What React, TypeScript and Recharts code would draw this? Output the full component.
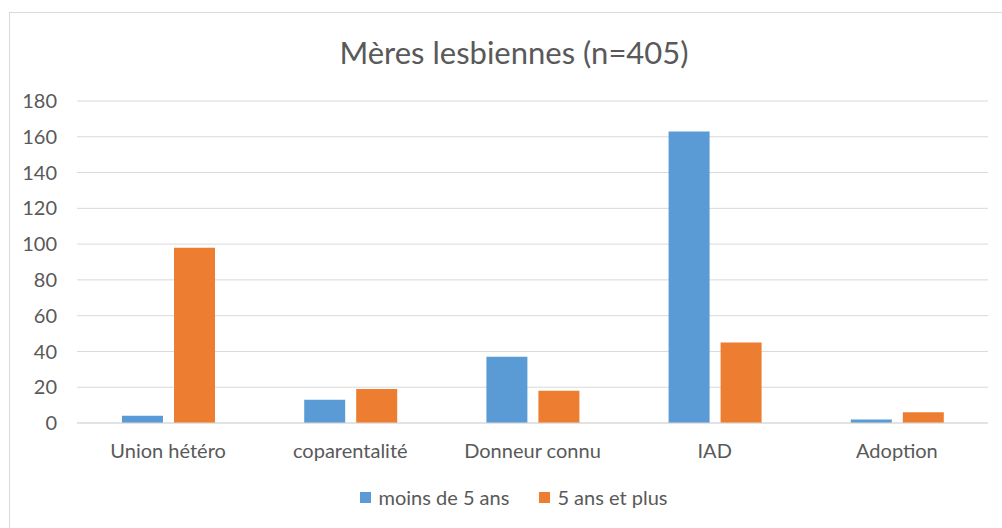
import {
  BarChart,
  Bar,
  XAxis,
  YAxis,
  CartesianGrid,
  Legend,
} from "recharts";

const categories = ["Union hétéro", "coparentalité", "Donneur connu", "IAD", "Adoption"];
const moinsDe5 = [4, 13, 37, 163, 2];
const cinqEtPlus = [98, 19, 18, 45, 6];
const yTicks = [0, 20, 40, 60, 80, 100, 120, 140, 160, 180];

const SERIES = [
  { key: "moins", name: "moins de 5 ans", color: "#5B9BD5" },
  { key: "plus", name: "5 ans et plus", color: "#ED7D31" },
];

const FONT = "Lato, 'Open Sans', sans-serif";
const TEXT = "#595959";
const GRID = "#d9d9d9";

const data = categories.map((c, i) => ({
  name: c,
  moins: moinsDe5[i],
  plus: cinqEtPlus[i],
}));

// legend centré en bas
const renderLegend = () => (
  <div
    style={{
      display: "flex",
      justifyContent: "center",
      gap: 30,
      fontFamily: FONT,
      fontSize: 20,
      color: TEXT,
      height: 24,
    }}
  >
    {SERIES.map((s) => (
      <div key={s.key} style={{ display: "flex", alignItems: "center", gap: 7 }}>
        <div style={{ width: 11, height: 11, background: s.color }} />
        <span>{s.name}</span>
      </div>
    ))}
  </div>
);

export default function App() {
  return (
    <div
      style={{
        position: "absolute",
        left: 0,
        top: 0,
        width: 1002,
        height: 528,
        overflow: "hidden",
        background: "#fff",
      }}
    >
      {/* cadre du graphique */}
      <div
        style={{
          position: "absolute",
          left: 9,
          top: 12,
          width: 1100,
          height: 600,
          borderLeft: `1px solid ${GRID}`,
          borderTop: `1px solid ${GRID}`,
        }}
      />
      <div
        style={{
          position: "absolute",
          left: 0,
          top: 30,
          width: 1028,
          textAlign: "center",
          fontFamily: FONT,
          fontSize: 31,
          color: TEXT,
          lineHeight: "44px",
        }}
      >
        Mères lesbiennes (n=405)
      </div>
      <div style={{ position: "absolute", left: 0, top: 0 }}>
        <BarChart
          width={1002}
          height={528}
          data={data}
          margin={{ top: 101, right: 14, bottom: 0, left: 0 }}
          barSize={41}
          barGap={11}
        >
          <CartesianGrid vertical={false} stroke={GRID} />
          <XAxis
            dataKey="name"
            axisLine={{ stroke: GRID }}
            tickLine={false}
            tickSize={0}
            tickMargin={21}
            tick={{ fill: TEXT, fontFamily: FONT, fontSize: 20 }}
            height={81}
          />
          <YAxis
            width={77}
            domain={[0, 180]}
            ticks={yTicks}
            interval={0}
            axisLine={false}
            tickLine={false}
            tickSize={0}
            tickMargin={20}
            tick={{ fill: TEXT, fontFamily: FONT, fontSize: 20 }}
          />
          {SERIES.map((s) => (
            <Bar
              key={s.key}
              dataKey={s.key}
              name={s.name}
              fill={s.color}
              isAnimationActive={false}
            />
          ))}
          <Legend
            content={renderLegend}
            wrapperStyle={{ top: 485, left: 0, width: 1028, bottom: "auto" }}
          />
        </BarChart>
      </div>
    </div>
  );
}
